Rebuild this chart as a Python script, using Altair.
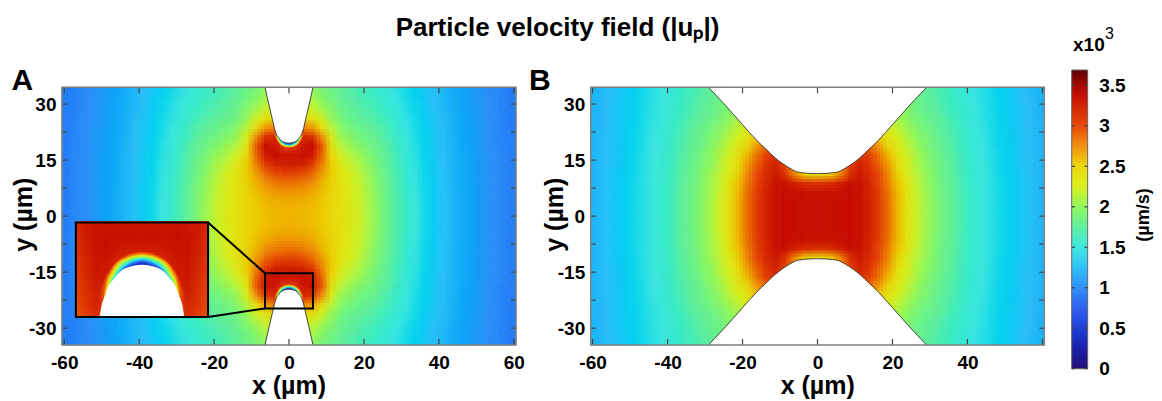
import altair as alt
import pandas as pd

N = None
# ---------- values (in x10^3 um/s) ----------
col_x = [1.25,3.75,6.25,8.75,11.25,13.75,16.25,18.75,21.25,23.75,26.25,28.75,31.25,33.75,36.25,38.75,41.25,43.75,46.25,48.75,51.25,53.75,56.25,58.75,61.25]
row_y = [1.25,3.75,6.25,8.75,11.25,13.75,16.25,18.75,21.25,23.75,26.25,28.75,31.25,33.75]

field_a = [
 [2.62,2.61,2.58,2.54,2.50,2.42,2.33,2.22,2.10,1.98,1.83,1.71,1.60,1.50,1.41,1.33,1.27,1.21,1.16,1.11,1.06,1.02,0.98,0.94,0.91],
 [2.64,2.63,2.60,2.55,2.50,2.42,2.32,2.21,2.09,1.97,1.83,1.71,1.60,1.50,1.41,1.33,1.27,1.21,1.16,1.11,1.06,1.02,0.98,0.94,0.91],
 [2.72,2.70,2.65,2.58,2.51,2.42,2.31,2.20,2.08,1.96,1.82,1.70,1.59,1.49,1.40,1.33,1.27,1.21,1.16,1.11,1.06,1.02,0.98,0.94,0.91],
 [2.84,2.82,2.75,2.62,2.52,2.40,2.29,2.18,2.06,1.94,1.81,1.69,1.58,1.48,1.40,1.33,1.26,1.20,1.15,1.10,1.06,1.02,0.98,0.94,0.91],
 [3.02,2.98,2.88,2.70,2.54,2.38,2.26,2.15,2.03,1.92,1.79,1.68,1.57,1.48,1.39,1.32,1.26,1.20,1.15,1.10,1.06,1.02,0.98,0.94,0.91],
 [3.25,3.22,3.08,2.80,2.54,2.33,2.20,2.11,2.00,1.89,1.77,1.66,1.56,1.47,1.39,1.32,1.26,1.20,1.15,1.10,1.06,1.02,0.98,0.94,0.91],
 [3.32,3.35,3.28,2.90,2.50,2.25,2.13,2.05,1.95,1.86,1.75,1.65,1.55,1.46,1.38,1.31,1.25,1.20,1.15,1.10,1.06,1.02,0.98,0.94,0.91],
 [3.10,3.30,3.35,2.95,2.40,2.15,2.05,1.97,1.90,1.82,1.73,1.63,1.53,1.45,1.37,1.30,1.25,1.19,1.14,1.10,1.05,1.01,0.97,0.94,0.91],
 [3.20,3.20,3.15,2.75,2.28,2.05,1.97,1.90,1.84,1.78,1.69,1.60,1.51,1.43,1.36,1.30,1.24,1.19,1.14,1.09,1.05,1.01,0.97,0.94,0.90],
 [2.80,2.80,2.70,2.45,2.15,1.98,1.90,1.84,1.79,1.73,1.66,1.57,1.49,1.42,1.35,1.29,1.24,1.18,1.13,1.09,1.05,1.01,0.97,0.93,0.90],
 [2.40,2.40,2.40,2.22,2.03,1.90,1.83,1.78,1.73,1.68,1.62,1.54,1.47,1.41,1.34,1.28,1.23,1.18,1.13,1.08,1.04,1.00,0.97,0.93,0.90],
 [2.20,2.20,2.20,2.07,1.96,1.85,1.78,1.73,1.69,1.64,1.58,1.51,1.45,1.39,1.33,1.27,1.22,1.17,1.12,1.08,1.04,1.00,0.96,0.93,0.90],
 [2.10,2.10,2.10,1.98,1.90,1.81,1.75,1.70,1.66,1.61,1.55,1.49,1.43,1.38,1.32,1.26,1.21,1.16,1.12,1.07,1.03,1.00,0.96,0.93,0.90],
 [2.00,2.00,2.00,1.92,1.85,1.78,1.72,1.67,1.63,1.58,1.53,1.47,1.41,1.36,1.31,1.26,1.21,1.16,1.11,1.07,1.03,0.99,0.96,0.92,0.89],
]
field_b = [
 [3.35,3.35,3.36,3.36,3.34,3.24,3.08,2.88,2.62,2.40,2.22,2.07,1.96,1.86,1.76,1.66,1.58,1.52,1.46,1.41,1.36,1.31,1.27,1.22,1.20],
 [3.35,3.35,3.36,3.36,3.34,3.24,3.08,2.88,2.62,2.40,2.22,2.07,1.96,1.86,1.76,1.66,1.58,1.52,1.46,1.41,1.36,1.31,1.27,1.22,1.20],
 [3.33,3.34,3.35,3.36,3.34,3.23,3.06,2.86,2.60,2.38,2.20,2.06,1.95,1.85,1.75,1.66,1.58,1.52,1.46,1.41,1.36,1.31,1.27,1.22,1.20],
 [3.15,3.18,3.26,3.34,3.33,3.21,3.03,2.82,2.57,2.35,2.18,2.05,1.94,1.84,1.75,1.65,1.57,1.51,1.46,1.41,1.36,1.31,1.27,1.22,1.20],
 [2.45,2.55,2.80,3.15,3.30,3.18,3.00,2.78,2.52,2.31,2.15,2.03,1.93,1.83,1.74,1.65,1.57,1.51,1.46,1.40,1.35,1.31,1.27,1.22,1.20],
 [N,N,2.70,3.05,3.25,3.13,2.93,2.70,2.46,2.27,2.12,2.00,1.91,1.82,1.73,1.64,1.56,1.51,1.45,1.40,1.35,1.30,1.26,1.22,1.19],
 [N,N,N,2.90,3.15,3.05,2.86,2.62,2.40,2.23,2.09,1.98,1.89,1.80,1.72,1.63,1.56,1.50,1.45,1.40,1.35,1.30,1.26,1.22,1.19],
 [N,N,N,N,2.90,2.90,2.72,2.50,2.33,2.18,2.05,1.95,1.86,1.78,1.70,1.62,1.55,1.50,1.44,1.39,1.34,1.30,1.26,1.22,1.19],
 [N,N,N,N,N,2.70,2.55,2.38,2.25,2.12,2.00,1.92,1.84,1.76,1.69,1.61,1.54,1.49,1.44,1.39,1.34,1.30,1.26,1.22,1.19],
 [N,N,N,N,N,N,2.45,2.30,2.16,2.05,1.96,1.88,1.81,1.74,1.67,1.60,1.53,1.48,1.43,1.38,1.34,1.29,1.25,1.21,1.19],
 [N,N,N,N,N,N,N,2.20,2.08,1.99,1.91,1.84,1.78,1.72,1.65,1.58,1.52,1.47,1.43,1.38,1.33,1.29,1.25,1.21,1.19],
 [N,N,N,N,N,N,N,N,2.02,1.95,1.87,1.81,1.75,1.69,1.63,1.57,1.51,1.47,1.42,1.37,1.33,1.29,1.25,1.21,1.18],
 [N,N,N,N,N,N,N,N,N,1.92,1.85,1.78,1.73,1.67,1.62,1.56,1.50,1.46,1.42,1.37,1.33,1.28,1.25,1.21,1.18],
 [N,N,N,N,N,N,N,N,N,N,1.84,1.78,1.71,1.66,1.61,1.55,1.49,1.45,1.41,1.36,1.32,1.28,1.24,1.20,1.18],
]
# zoomed inset background
inset_x = [0.5,1.5,2.5,3.5,4.5,5.5,6.5]
inset_y = [-15.8,-16.8,-17.8,-18.8,-19.8,-20.8,-21.8,-22.8,-23.8,-24.8]
inset_field = [
 [3.33,3.33,3.33,3.33,3.32,3.28,3.18],
 [3.34,3.34,3.34,3.34,3.33,3.27,3.15],
 [3.30,3.30,3.32,3.34,3.33,3.25,3.13],
 [3.20,3.22,3.27,3.33,3.32,3.23,3.10],
 [3.20,3.20,3.20,3.30,3.32,3.20,3.08],
 [3.20,3.20,3.20,3.28,3.30,3.18,3.05],
 [3.20,3.20,3.20,3.22,3.28,3.15,3.02],
 [3.20,3.20,3.20,3.15,3.25,3.12,3.00],
 [3.10,3.10,3.10,3.10,3.20,3.10,2.98],
 [3.10,3.10,3.10,3.10,3.15,3.05,2.95],
]
# contours around the electrode tip (half outlines, lower tip)
rim_levels = [3.05,2.75,2.4,2.0,1.6,1.2,0.8,0.4]
rim_x = [
 [0,2,3,3.7,4.0],
 [0,2,3,3.5,3.7],
 [0,2,2.9,3.4,3.5],
 [0,1.9,2.8,3.26,3.3],
 [0,1.8,2.6,3.0,3.05],
 [0,1.6,2.4,2.6,2.65],
 [0,1.4,2.13,2.3,2.35],
 [0,1.0,1.8,1.95,2.0],
]
rim_y = [
 [-18.25,-18.85,-19.9,-21.2,-22.3],
 [-18.40,-19.00,-20.1,-21.3,-22.3],
 [-18.55,-19.15,-20.3,-21.5,-22.0],
 [-18.70,-19.30,-20.5,-21.7,-22.0],
 [-18.85,-19.45,-20.55,-21.3,-21.8],
 [-19.00,-19.60,-20.45,-20.8,-21.2],
 [-19.15,-19.60,-20.23,-20.5,-20.8],
 [-19.30,-19.60,-20.05,-20.3,-20.6],
]
# electrode outlines
tip_x = [0,1.2,2.13,2.7,3.26,3.55,3.9,4.15,4.7,5.3,5.85,6.4]
tip_y = [-19.55,-19.75,-20.23,-20.9,-21.7,-22.5,-23.5,-24.7,-27,-29.6,-32,-34.5]
wall_x = [0,2,4,5.6,7.5,9.5,11.4,13.5,16.3,20,24.5,29.1]
wall_y = [11.4,11.45,11.6,11.9,12.9,14.2,15.7,17.7,20.4,24.5,29.6,34.5]
# colour bar stops
stop_v = [0,0.25,0.5,0.75,1.0,1.25,1.5,1.75,2.0,2.25,2.5,2.75,3.0,3.2,3.36,3.5,3.69]
stop_c = ["#20107a","#1a20a8","#2040d8","#3060f0","#3090f8","#30c0f8","#40e8e0","#60f0a0","#90f860","#d8f020","#ecd810","#f09010","#e84a0a","#d82a04","#c81000","#a80808","#5a0000"]
x_ticks = [-60,-40,-20,0,20,40,60]
x_labels_b = [-60,-40,-20,0,20,40]
y_ticks = [-30,-22.5,-15,-7.5,0,7.5,15,22.5,30]
y_labels = [-30,-15,0,15,30]
bar_labels = [0,0.5,1,1.5,2,2.5,3,3.5]

W, H = 1146, 393
def S(dom, rng):
    return alt.Scale(domain=dom, range=rng, nice=False, zero=False, clamp=True)
ax_x, ax_y = S([-60.6,60.6],[54,508]), S([-34.5,34.5],[337,79.3])
bx_x, bx_y = S([-60.5,60.5],[582.7,1036.3]), S([-34.5,34.5],[337,79.3])
in_x, in_y = S([-6.4,6.4],[68,200]), S([-24.7,-15.3],[308.7,214])
cb_y = S([0,3.69],[360.7,62])
color_scale = alt.Scale(domain=stop_v, range=stop_c, clamp=True)

def X(f, s, axis=None, **k):
    return alt.X(f, type="quantitative", scale=s, axis=axis, **k)
def Y(f, s, axis=None, **k):
    return alt.Y(f, type="quantitative", scale=s, axis=axis, **k)

def cell_frame(table, xs, ys, hx, hy):
    out = []
    for yc, row in zip(ys, table):
        for xc, v in zip(xs, row):
            if v is None:
                continue
            for sx in (-1, 1):
                for sy in (-1, 1):
                    out.append(dict(x0=round(sx*xc-hx,3), x1=round(sx*xc+hx,3), y0=round(sy*yc-hy,3), y1=round(sy*yc+hy,3), v=v))
    return pd.DataFrame(out)

def cell_layers(df, sx, sy, step):
    # the same cells are drawn nine times, slightly displaced and translucent, to soften their edges
    out = []
    k = 0
    for dx in (0, -step, step):
        for dy in (0, -step, step):
            k += 1
            c = alt.Chart(df).transform_calculate(
                a=f"datum.x0+({dx})", b=f"datum.x1+({dx})", c=f"datum.y0+({dy})", d=f"datum.y1+({dy})")
            if k == 1:
                m = c.mark_rect(strokeWidth=0.7).encode(stroke=alt.Stroke("v:Q", scale=color_scale, legend=None))
            else:
                m = c.mark_rect(opacity=1.0/k)
            out.append(m.encode(x=X("a:Q", sx), x2="b:Q", y=Y("c:Q", sy), y2="d:Q",
                                color=alt.Color("v:Q", scale=color_scale, legend=None)))
    return out

def rim_frame(mirrors):
    out = []
    for k, (lv, xs, ys) in enumerate(zip(rim_levels, rim_x, rim_y)):
        for m in mirrors:
            pts = sorted({(sx*x, y) for x, y in zip(xs, ys) for sx in (-1, 1)})
            for x, y in pts:
                out.append(dict(x=x, y=m*y, base=m*-34.5, v=lv, key=f"{k:02d}{m}"))
    return pd.DataFrame(out)

def rim_layer(df, sx, sy):
    return alt.Chart(df).mark_area(interpolate="monotone", orient="vertical").encode(
        x=X("x", sx), y=Y("y", sy), y2="base:Q",
        color=alt.Color("v:Q", scale=color_scale, legend=None), detail="key:N")

def outline_frame(xs, ys, mirrors, edge):
    out = []
    for m in mirrors:
        pts = sorted({(sx*x, y) for x, y in zip(xs, ys) for sx in (-1, 1)})
        for x, y in pts:
            out.append(dict(x=x, y=m*y, base=m*edge, key=str(m)))
    return pd.DataFrame(out)

def white_layers(df, sx, sy, stroke_w=0.9):
    a = alt.Chart(df).mark_area(color="white", interpolate="monotone", orient="vertical", opacity=1).encode(
        x=X("x", sx), y=Y("y", sy), y2="base:Q", detail="key:N")
    l = alt.Chart(df).mark_line(color="#333", strokeWidth=stroke_w, interpolate="monotone").encode(
        x=X("x", sx), y=Y("y", sy), detail="key:N")
    return [a, l]

def box(x0, x1, y0, y1, sx, sy, color, w, axx=None, axy=None):
    df = pd.DataFrame(dict(x0=[x0], x1=[x1], y0=[y0], y1=[y1]))
    return alt.Chart(df).mark_rect(fillOpacity=0, stroke=color, strokeWidth=w).encode(
        x=X("x0", sx, axx), x2="x1", y=Y("y0", sy, axy), y2="y1")

def line(x0, x1, y0, y1, sx, sy):
    df = pd.DataFrame(dict(x0=[x0], x1=[x1], y0=[y0], y1=[y1]))
    return alt.Chart(df).mark_rule(color="black", strokeWidth=2).encode(
        x=X("x0", sx), x2="x1", y=Y("y0", sy), y2="y1")

def xticks(vals, sx, top, bottom, n=6):
    df = pd.DataFrame(dict(t=vals))
    r = alt.Chart(df).mark_rule(color="#444", strokeWidth=1.2)
    return [r.encode(x=X("t", sx), y=alt.value(top), y2=alt.value(top+n)),
            r.encode(x=X("t", sx), y=alt.value(bottom-n), y2=alt.value(bottom))]

def yticks(vals, sy, left, right, n=5):
    df = pd.DataFrame(dict(t=vals))
    r = alt.Chart(df).mark_rule(color="#444", strokeWidth=1.2)
    return [r.encode(y=Y("t", sy), x=alt.value(left), x2=alt.value(left+n)),
            r.encode(y=Y("t", sy), x=alt.value(right-n), x2=alt.value(right))]

LE = "'' + datum.value"
def x_axis(vals):
    return alt.Axis(values=vals, orient="bottom", offset=337-H, ticks=False, domain=False, grid=False,
                    labelFont="Liberation Sans", labelFontWeight="bold", labelFontSize=19, labelColor="black",
                    labelPadding=8, labelExpr=LE, title=None, zindex=3)
def y_axis(vals, off):
    return alt.Axis(values=vals, orient="left", offset=off, ticks=False, domain=False, grid=False,
                    labelFont="Liberation Sans", labelFontWeight="bold", labelFontSize=19, labelColor="black",
                    labelPadding=6, labelExpr=LE, title=None, zindex=3)

def label(text, x, y, size, angle=0, align="left", weight="bold"):
    return alt.Chart(pd.DataFrame(dict(t=[text]))).mark_text(
        font="Liberation Sans", fontWeight=weight, fontSize=size, color="black", angle=angle,
        align=align, baseline="middle").encode(text="t:N", x=alt.value(x), y=alt.value(y))

layers = []
# Panel A
layers += cell_layers(cell_frame(field_a, col_x, row_y, 1.25, 1.25), ax_x, ax_y, 0.83)
layers.append(rim_layer(rim_frame([1, -1]), ax_x, ax_y))
layers += white_layers(outline_frame(tip_x, tip_y, [1, -1], -34.5), ax_x, ax_y)
layers += xticks(x_ticks, ax_x, 79.3, 337) + yticks(y_ticks, ax_y, 54, 508)
layers.append(box(-60.6, 60.6, -34.5, 34.5, ax_x, ax_y, "#808080", 1.5, x_axis(x_ticks), y_axis(y_labels, -54)))
layers.append(line(-21.6, -6.4, -1.7, -15.3, ax_x, ax_y))
layers.append(line(-21.6, -6.4, -27, -24.7, ax_x, ax_y))
layers.append(box(-6.4, 6.4, -24.7, -15.3, ax_x, ax_y, "black", 2))
# Inset
layers += cell_layers(cell_frame(inset_field, inset_x, inset_y, 0.5, 0.5), in_x, in_y, 0.33)
layers.append(rim_layer(rim_frame([1]), in_x, in_y))
layers.append(white_layers(outline_frame(tip_x, tip_y, [1], -34.5), in_x, in_y)[0])
layers.append(box(-56.9, -21.6, -27, -1.7, ax_x, ax_y, "black", 2))
# Panel B
layers += cell_layers(cell_frame(field_b, col_x, row_y, 1.25, 1.25), bx_x, bx_y, 0.83)
layers += white_layers(outline_frame(wall_x, wall_y, [1, -1], 34.5), bx_x, bx_y)
layers += xticks(x_ticks, bx_x, 79.3, 337) + yticks(y_ticks, bx_y, 582.7, 1036.3)
layers.append(box(-60.5, 60.5, -34.5, 34.5, bx_x, bx_y, "#808080", 1.5, x_axis(x_labels_b), y_axis(y_labels, -582.7)))
# Colour bar
bar_fill = alt.Gradient(gradient="linear", x1=0, x2=0, y1=1, y2=0,
                        stops=[alt.GradientStop(offset=v/3.69, color=c) for v, c in zip(stop_v, stop_c)])
layers.append(alt.Chart(pd.DataFrame(dict(lo=[0], hi=[3.69]))).mark_rect(fill=bar_fill, stroke="#666", strokeWidth=1).encode(
    y=Y("lo", cb_y), y2="hi", x=alt.value(1063.7), x2=alt.value(1079.7)))
cb_axis = alt.Axis(values=bar_labels, orient="right", offset=1079.7-W, ticks=False, domain=False, grid=False,
                   labelFont="Liberation Sans", labelFontWeight="bold", labelFontSize=19, labelColor="black",
                   labelPadding=11, labelExpr=LE, title=None)
tick_df = pd.DataFrame(dict(t=bar_labels))
layers.append(alt.Chart(tick_df).mark_rule(color="#444", strokeWidth=1.2).encode(
    y=Y("t", cb_y, cb_axis), x=alt.value(1063.7), x2=alt.value(1067)))
layers.append(alt.Chart(tick_df).mark_rule(color="#444", strokeWidth=1.2).encode(
    y=Y("t", cb_y), x=alt.value(1076.4), x2=alt.value(1079.7)))
# Texts
layers.append(label("Particle velocity field (|uₚ|)", 549.5, 20, 26, align="center"))
layers.append(label("A", 3.5, 73, 30))
layers.append(label("B", 521, 73, 30))
layers.append(label("x (µm)", 281, 378, 25, align="center"))
layers.append(label("x (µm)", 809.7, 378, 25, align="center"))
layers.append(label("y (µm)", 15.5, 206.7, 25, angle=270, align="center"))
layers.append(label("y (µm)", 547, 206.7, 25, angle=270, align="center"))
layers.append(label("x10", 1065, 37, 19))
layers.append(label("3", 1097, 26, 16, weight="normal"))
layers.append(label("(µm/s)", 1136, 207, 18, angle=270, align="center"))

chart = alt.layer(*layers).resolve_scale(x="independent", y="independent", color="shared", stroke="shared").properties(
    width=W, height=H, padding=0,
    autosize=alt.AutoSizeParams(type="none", contains="padding"),
).configure_view(stroke=None)

chart.save("out.html", embed_options={"renderer": "svg", "actions": False})
